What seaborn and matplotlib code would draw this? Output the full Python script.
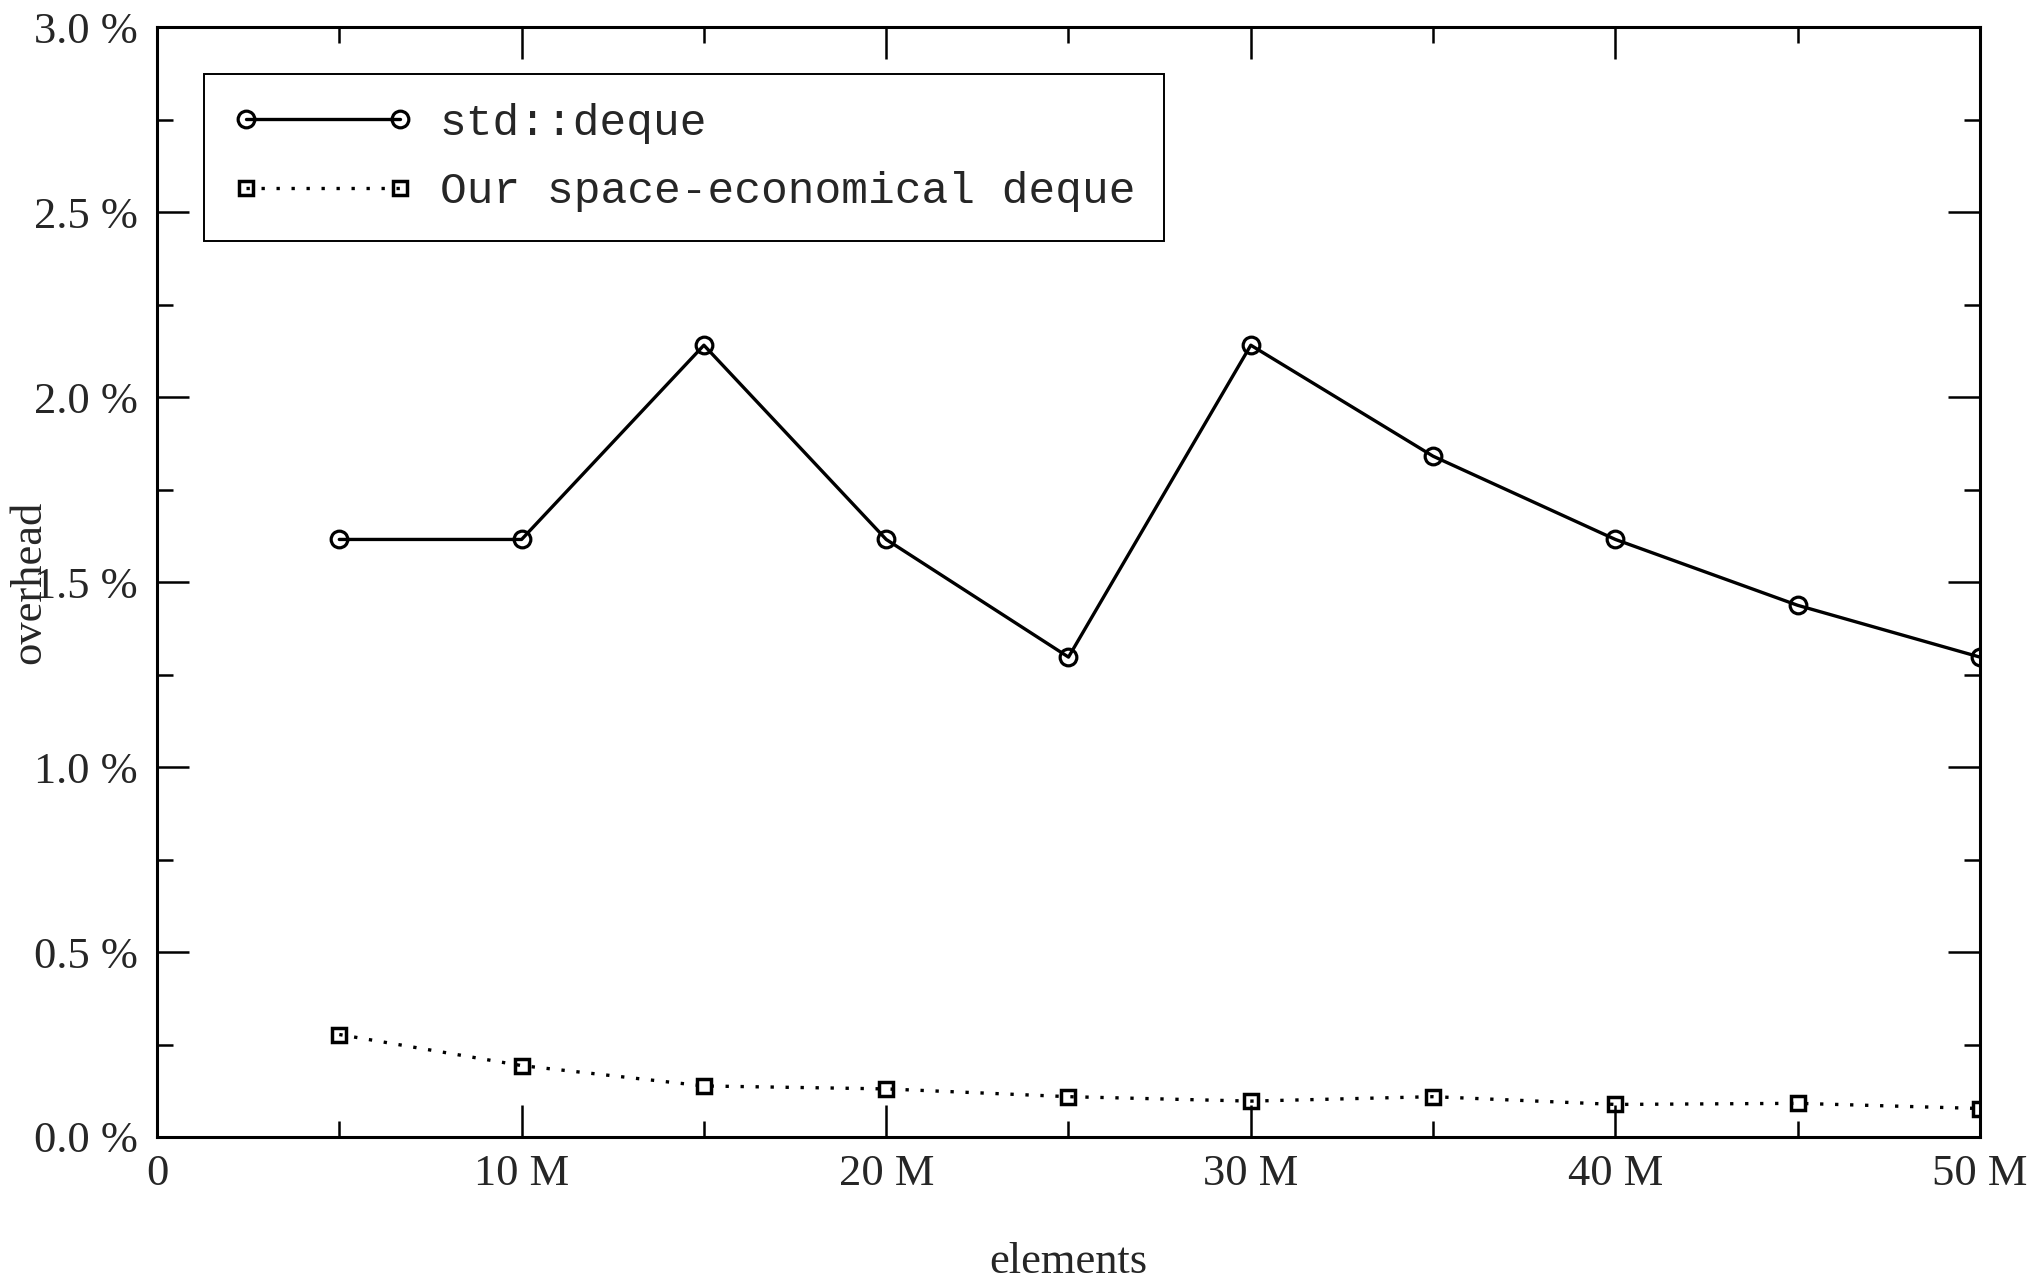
"""overhead of std::deque vs space-economical deque"""

import matplotlib
matplotlib.use("Agg")
import matplotlib.pyplot as plt
import matplotlib.ticker as mticker
import seaborn as sns

elements = [5e6, 10e6, 15e6, 20e6, 25e6, 30e6, 35e6, 40e6, 45e6, 50e6]
std_deque = [1.615, 1.615, 2.14, 1.615, 1.297, 2.14, 1.84, 1.615, 1.437, 1.297]
our_deque = [0.277, 0.193, 0.138, 0.130, 0.109, 0.097, 0.109, 0.088, 0.091, 0.077]
x_ticks = [0, 10e6, 20e6, 30e6, 40e6, 50e6]
x_tick_labels = ["0", "10 M", "20 M", "30 M", "40 M", "50 M"]
y_ticks = [0.0, 0.5, 1.0, 1.5, 2.0, 2.5, 3.0]
y_tick_labels = ["0.0 %", "0.5 %", "1.0 %", "1.5 %", "2.0 %", "2.5 %", "3.0 %"]

sns.set_theme(style="ticks")
plt.rcParams["font.family"] = ["Liberation Serif", "DejaVu Serif"]

fig = plt.figure(figsize=(20.33, 12.83), dpi=100)
ax = fig.add_axes([157 / 2033, 1 - 1137 / 1283, 1823 / 2033, 1110 / 1283])

sns.lineplot(x=elements, y=std_deque, ax=ax, color="black", linewidth=2.4,
             marker="o", markersize=12, markerfacecolor="none",
             markeredgecolor="black", markeredgewidth=2.3, label="std::deque")
sns.lineplot(x=elements, y=our_deque, ax=ax, color="black", linewidth=2.4,
             linestyle=(0, (1, 3.5)), marker="s", markersize=10.5,
             markerfacecolor="none", markeredgecolor="black",
             markeredgewidth=2.5, label="Our space-economical deque")

ax.set_xlim(0, 50e6)
ax.set_ylim(0, 3.0)
ax.set_xticks(x_ticks)
ax.set_xticklabels(x_tick_labels)
ax.set_yticks(y_ticks)
ax.set_yticklabels(y_tick_labels)
ax.xaxis.set_minor_locator(mticker.MultipleLocator(5e6))
ax.yaxis.set_minor_locator(mticker.MultipleLocator(0.25))

ax.tick_params(which="both", direction="in", top=True, right=True,
               color="black", width=1.8)
ax.tick_params(which="major", length=23, labelsize=32, pad=14)
ax.tick_params(which="minor", length=11.5)
ax.tick_params(axis="x", which="major", pad=12)

for spine in ax.spines.values():
    spine.set_visible(True)
    spine.set_color("black")
    spine.set_linewidth(2.2)

ax.set_xlabel("elements", fontsize=32)
ax.set_ylabel("overhead", fontsize=32)
ax.xaxis.set_label_coords(0.5, -0.1126)
ax.xaxis.label.set_va("center")
ax.yaxis.set_label_coords(-0.070, 0.5)
ax.yaxis.label.set_va("center")

leg = ax.legend(loc="upper left", bbox_to_anchor=(47 / 1823, 1 - 47 / 1110),
                borderaxespad=0, fancybox=False, framealpha=1,
                edgecolor="black", numpoints=2, handlelength=4.05,
                handletextpad=0.6, borderpad=0.65, labelspacing=0.62,
                prop={"family": "Liberation Mono", "size": 32})
leg.get_frame().set_linewidth(1.4)

plt.savefig("out.png", dpi=100)
plt.close()
